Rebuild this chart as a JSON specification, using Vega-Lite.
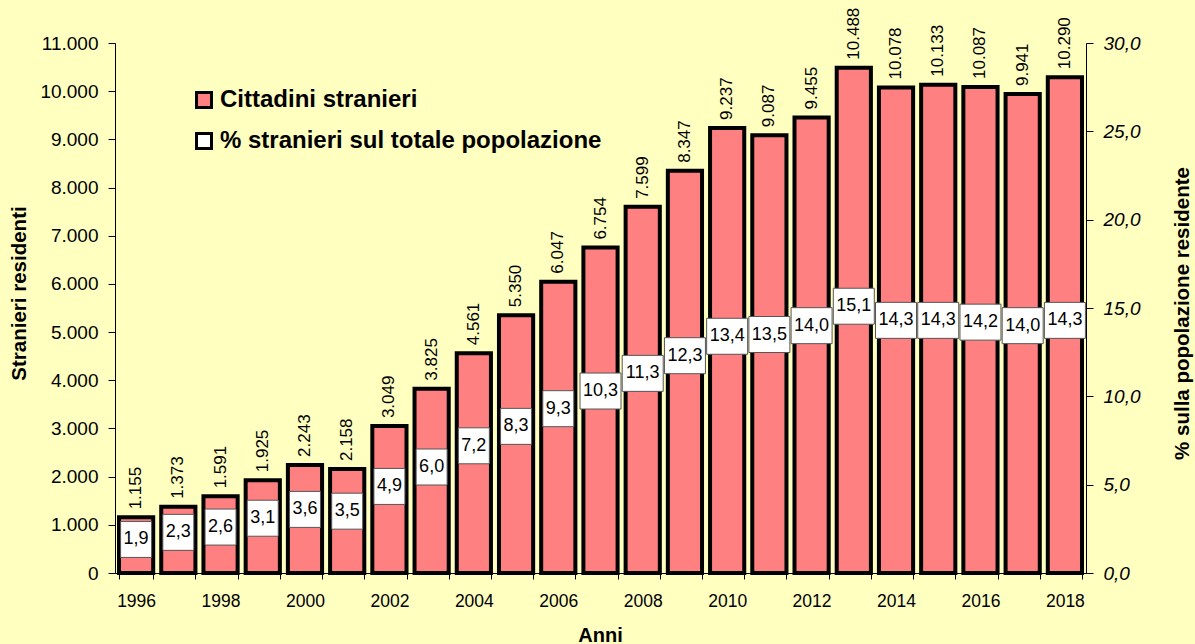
{
 "$schema": "https://vega.github.io/schema/vega-lite/v6.json",
 "width": 971,
 "height": 530,
 "autosize": "none",
 "padding": {"left": 115, "top": 43, "right": 109, "bottom": 71},
 "background": "#FFFFC0",
 "config": {
  "locale": {"number": {"decimal": ",", "thousands": ".", "grouping": [3], "currency": ["", " €"]}},
  "view": {"stroke": null},
  "font": "Liberation Sans",
  "axis": {"domainColor": "black", "tickColor": "black", "labelColor": "black", "titleColor": "black", "grid": false, "labelFont": "Liberation Sans", "titleFont": "Liberation Sans", "domainWidth": 1, "tickWidth": 1}
 },
 "data": {"values": [
  {"anno": 1996, "stranieri": 1155, "pct": 1.9},
  {"anno": 1997, "stranieri": 1373, "pct": 2.3},
  {"anno": 1998, "stranieri": 1591, "pct": 2.6},
  {"anno": 1999, "stranieri": 1925, "pct": 3.1},
  {"anno": 2000, "stranieri": 2243, "pct": 3.6},
  {"anno": 2001, "stranieri": 2158, "pct": 3.5},
  {"anno": 2002, "stranieri": 3049, "pct": 4.9},
  {"anno": 2003, "stranieri": 3825, "pct": 6.0},
  {"anno": 2004, "stranieri": 4561, "pct": 7.2},
  {"anno": 2005, "stranieri": 5350, "pct": 8.3},
  {"anno": 2006, "stranieri": 6047, "pct": 9.3},
  {"anno": 2007, "stranieri": 6754, "pct": 10.3},
  {"anno": 2008, "stranieri": 7599, "pct": 11.3},
  {"anno": 2009, "stranieri": 8347, "pct": 12.3},
  {"anno": 2010, "stranieri": 9237, "pct": 13.4},
  {"anno": 2011, "stranieri": 9087, "pct": 13.5},
  {"anno": 2012, "stranieri": 9455, "pct": 14.0},
  {"anno": 2013, "stranieri": 10488, "pct": 15.1},
  {"anno": 2014, "stranieri": 10078, "pct": 14.3},
  {"anno": 2015, "stranieri": 10133, "pct": 14.3},
  {"anno": 2016, "stranieri": 10087, "pct": 14.2},
  {"anno": 2017, "stranieri": 9941, "pct": 14.0},
  {"anno": 2018, "stranieri": 10290, "pct": 14.3}
 ]},
 "encoding": {
  "x": {
   "field": "anno", "type": "ordinal",
   "scale": {"paddingInner": 0.19, "paddingOuter": 0.095},
   "axis": {
    "title": "Anni", "titleFontSize": 20, "titleFontWeight": "bold", "titleX": 485, "titleY": 62, "titleBaseline": "middle",
    "labelAngle": 0, "labelFontSize": 17.5, "labelPadding": 13, "tickSize": 6, "tickBand": "extent",
    "labelExpr": "datum.value % 2 == 0 ? datum.label : ''"
   }
  }
 },
 "layer": [
  {
   "encoding": {
    "y": {
     "field": "stranieri", "type": "quantitative",
     "scale": {"domain": [0, 11000], "nice": false},
     "axis": {
      "title": "Stranieri residenti", "titleFontSize": 20.5, "titleFontWeight": "bold", "titleAngle": 270,
      "titleX": -96, "titleY": 250, "titleAlign": "center", "titleBaseline": "middle",
      "labelFontSize": 19, "tickSize": 7, "labelPadding": 10, "format": ",d",
      "values": [0, 1000, 2000, 3000, 4000, 5000, 6000, 7000, 8000, 9000, 10000, 11000]
     }
    }
   },
   "layer": [
    {
     "mark": {"type": "bar", "stroke": "black", "strokeWidth": 4},
     "encoding": {
      "fill": {
       "datum": "Cittadini stranieri",
       "scale": {"domain": ["Cittadini stranieri", "% stranieri sul totale popolazione"], "range": ["#FF8080", "#FFFFFF"]},
       "legend": {
        "title": null, "orient": "none", "legendX": 77, "legendY": 45,
        "symbolType": "square", "symbolSize": 225, "symbolStrokeColor": "black", "symbolStrokeWidth": 3,
        "labelFont": "Liberation Sans", "labelFontSize": 24, "labelFontWeight": "bold", "labelColor": "black",
        "rowPadding": 13, "labelOffset": 4, "labelLimit": 600,
        "encode": {"symbols": {"update": {"stroke": {"value": "black"}, "strokeWidth": {"value": 3}, "opacity": {"value": 1}}}}
       }
      }
     }
    },
    {
     "mark": {"type": "text", "angle": 270, "align": "left", "baseline": "middle", "dx": 8, "font": "Liberation Sans", "fontSize": 17, "color": "black"},
     "encoding": {"text": {"field": "stranieri", "type": "quantitative", "format": ",d"}}
    }
   ]
  },
  {
   "encoding": {
    "y": {
     "field": "pct", "type": "quantitative",
     "scale": {"domain": [0, 30], "nice": false},
     "axis": {
      "orient": "right",
      "title": "% sulla popolazione residente", "titleFontSize": 20.5, "titleFontWeight": "bold", "titleAngle": 270,
      "titleX": 96, "titleY": 270, "titleAlign": "center", "titleBaseline": "middle",
      "labelFontSize": 19, "labelFontStyle": "italic", "tickSize": 7, "labelPadding": 10, "format": ".1f",
      "values": [0, 5, 10, 15, 20, 25, 30]
     }
    }
   },
   "layer": [
    {
     "transform": [{"filter": "datum.pct < 10"}],
     "mark": {"type": "tick", "thickness": 36, "size": 31, "stroke": "#555555", "strokeWidth": 1, "opacity": 1},
     "encoding": {"fill": {"datum": "% stranieri sul totale popolazione"}}
    },
    {
     "transform": [{"filter": "datum.pct >= 10"}],
     "mark": {"type": "tick", "thickness": 36, "size": 41, "stroke": "#555555", "strokeWidth": 1, "opacity": 1},
     "encoding": {"fill": {"datum": "% stranieri sul totale popolazione"}}
    },
    {
     "mark": {"type": "text", "align": "center", "baseline": "middle", "font": "Liberation Sans", "fontSize": 18, "color": "black"},
     "encoding": {"text": {"field": "pct", "type": "quantitative", "format": ".1f"}}
    }
   ]
  }
 ],
 "resolve": {"scale": {"y": "independent"}}
}
